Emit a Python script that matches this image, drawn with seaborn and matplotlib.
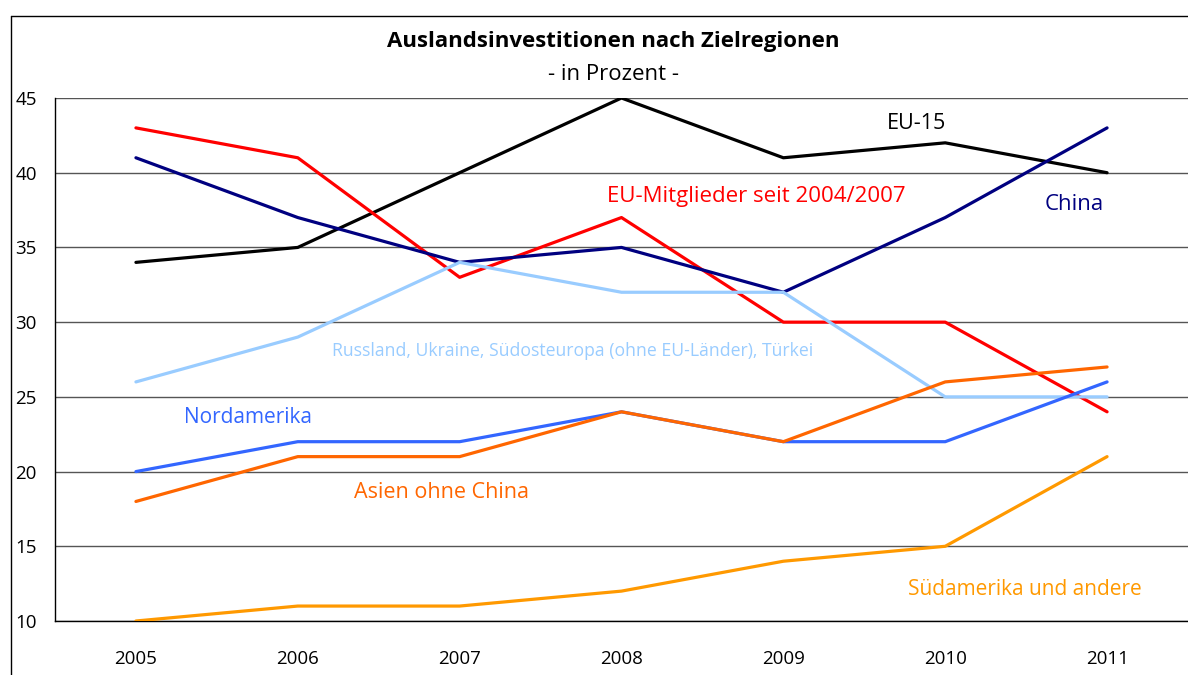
import pandas as pd
import seaborn as sns
import matplotlib.pyplot as plt
from matplotlib.lines import Line2D

# Data
years = ["2005", "2006", "2007", "2008", "2009", "2010", "2011"]
eu15 = [34, 35, 40, 45, 41, 42, 40]
eu_neu = [43, 41, 33, 37, 30, 30, 24]
china = [41, 37, 34, 35, 32, 37, 43]
russland = [26, 29, 34, 32, 32, 25, 25]
nordamerika = [20, 22, 22, 24, 22, 22, 26]
asien = [18, 21, 21, 24, 22, 26, 27]
suedamerika = [10, 11, 11, 12, 14, 15, 21]

series = {
    "EU-15": eu15,
    "EU-Mitglieder seit 2004/2007": eu_neu,
    "China": china,
    "Russland, Ukraine, Südosteuropa (ohne EU-Länder), Türkei": russland,
    "Nordamerika": nordamerika,
    "Asien ohne China": asien,
    "Südamerika und andere": suedamerika,
}
colors = {
    "EU-15": "#000000",
    "EU-Mitglieder seit 2004/2007": "#FF0000",
    "China": "#000080",
    "Russland, Ukraine, Südosteuropa (ohne EU-Länder), Türkei": "#99CCFF",
    "Nordamerika": "#3366FF",
    "Asien ohne China": "#FF6600",
    "Südamerika und andere": "#FF9900",
}
# label positions (x index, y value, font size)
label_pos = {
    "EU-15": (4.82, 43.3, 15.5),
    "EU-Mitglieder seit 2004/2007": (3.83, 38.4, 16),
    "China": (5.8, 37.9, 16),
    "Russland, Ukraine, Südosteuropa (ohne EU-Länder), Türkei": (2.70, 28.1, 12.7),
    "Nordamerika": (0.69, 23.6, 15),
    "Asien ohne China": (1.89, 18.6, 15.5),
    "Südamerika und andere": (5.49, 12.1, 15),
}

rows = []
for name, vals in series.items():
    for i, v in enumerate(vals):
        rows.append({"Region": name, "idx": i, "Wert": v})
df = pd.DataFrame(rows)

sns.set_style("white")
plt.rcParams["font.family"] = ["Open Sans", "DejaVu Sans"]
plt.rcParams["text.color"] = "black"
plt.rcParams["xtick.color"] = "black"
plt.rcParams["ytick.color"] = "black"

fig = plt.figure(figsize=(11.88, 6.75), dpi=100)
ax = fig.add_axes([55 / 1188, 1 - 621 / 675, 1133 / 1188, (621 - 98) / 675])

sns.lineplot(data=df, x="idx", y="Wert", hue="Region", palette=colors,
             linewidth=2.3, legend=False, ax=ax, zorder=3)

ax.set_xlim(-0.5, 6.5)
ax.set_ylim(10, 45)
ax.set_yticks(range(10, 46, 5))
ax.set_yticklabels([str(v) for v in range(10, 46, 5)], fontsize=13.5)
ax.set_xticks(range(7))
ax.set_xticklabels(years, fontsize=13.5)
ax.set_xticks([i - 0.5 for i in range(8)], minor=True)
ax.tick_params(axis="x", which="major", length=0, pad=21)
ax.tick_params(axis="x", which="minor", length=5, width=1, color="black", direction="out")
ax.tick_params(axis="y", length=5, width=1, color="black", direction="out", pad=8)
ax.grid(axis="y", color="#555555", linewidth=1)
ax.set_xlabel("")
ax.set_ylabel("")
for s in ["top", "right"]:
    ax.spines[s].set_visible(False)
for s in ["left", "bottom"]:
    ax.spines[s].set_color("black")
    ax.spines[s].set_linewidth(1)

for name, (x, y, fs) in label_pos.items():
    ax.text(x, y, name, color=colors[name], fontsize=fs,
            ha="center", va="center", zorder=4)

fig.text(613 / 1188, 1 - 42 / 675, "Auslandsinvestitionen nach Zielregionen",
         ha="center", va="center", fontsize=16, fontweight="bold")
fig.text(614 / 1188, 1 - 74 / 675, "- in Prozent -", ha="center", va="center", fontsize=16)

# outer frame: only top and left edges are visible in the reference
bx, by = 10.5 / 1188, 1 - 15.5 / 675
fig.add_artist(Line2D([bx, 1.0], [by, by], transform=fig.transFigure, color="black", linewidth=1))
fig.add_artist(Line2D([bx, bx], [0.0, by], transform=fig.transFigure, color="black", linewidth=1))

fig.savefig("out.png", dpi=100)
